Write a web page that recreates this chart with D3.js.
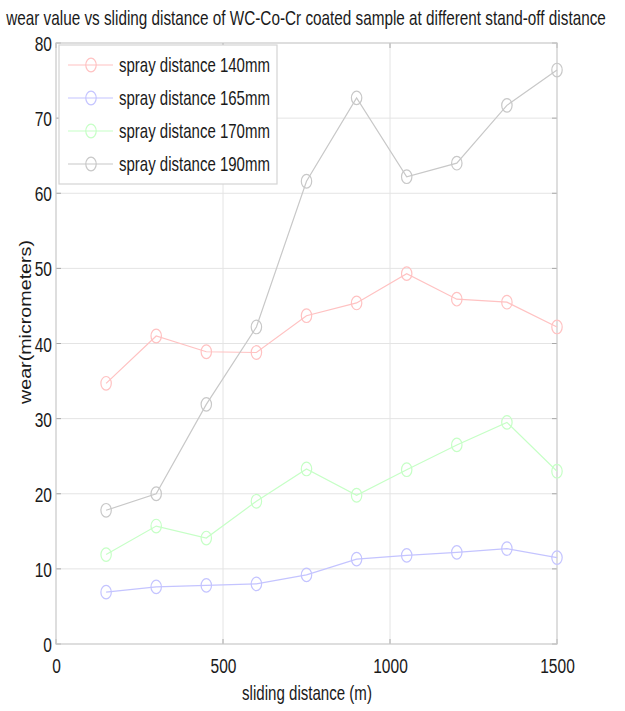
<!DOCTYPE html>
<html><head><meta charset="utf-8">
<script src="https://cdn.jsdelivr.net/npm/d3@7"></script>
<style>body{margin:0;background:#fff}svg{display:block}text{font-family:"Liberation Sans",Arial,sans-serif;fill:#1a1a1a}</style>
</head><body>
<svg id="chart" width="625" height="711"></svg>
<script>
const distances = [150, 300, 450, 600, 750, 900, 1050, 1200, 1350, 1500];
const seriesNames = ["spray distance 140mm", "spray distance 165mm", "spray distance 170mm", "spray distance 190mm"];
const wear140 = [34.7, 41.0, 38.9, 38.8, 43.7, 45.4, 49.3, 45.9, 45.5, 42.2];
const wear165 = [6.9, 7.6, 7.8, 8.0, 9.2, 11.3, 11.8, 12.2, 12.7, 11.5];
const wear170 = [11.9, 15.7, 14.1, 19.0, 23.3, 19.8, 23.2, 26.5, 29.5, 23.0];
const wear190 = [17.8, 20.0, 31.9, 42.2, 61.6, 72.7, 62.2, 64.0, 71.7, 76.4];
const xTicks = [0, 500, 1000, 1500];
const yTicks = [0, 10, 20, 30, 40, 50, 60, 70, 80];
const colors = ["#ffc2c2", "#c4c4ff", "#c6ffc6", "#c8c8c8"];
const titleText = "wear value vs sliding distance of WC-Co-Cr coated sample at different stand-off distance";
const xLabel = "sliding distance (m)";
const yLabel = "wear(micrometers)";

const series = [wear140, wear165, wear170, wear190];
const svg = d3.select("#chart");
const L = 56, R = 557, T = 43, B = 644;
const x = d3.scaleLinear().domain([0, 1500]).range([L, R]);
const y = d3.scaleLinear().domain([0, 80]).range([B, T]);
const SX = 0.74;

// helper: horizontally squeeze a text to a target width
function fitText(sel, cx, cy, width, anchor) {
  const node = sel.node();
  const w = node.getComputedTextLength();
  const s = width / w;
  sel.attr("x", 0).attr("y", 0).attr("text-anchor", anchor)
     .attr("transform", `translate(${cx},${cy}) scale(${s},1)`);
}

// grid
const grid = svg.append("g");
grid.selectAll(".gy").data(yTicks.filter(d => d > 0 && d < 80)).join("line")
  .attr("x1", L).attr("x2", R).attr("y1", d => y(d)).attr("y2", d => y(d))
  .attr("stroke", "#e4e4e4").attr("stroke-width", 1);
grid.selectAll(".gx").data(xTicks.filter(d => d > 0 && d < 1500)).join("line")
  .attr("y1", T).attr("y2", B).attr("x1", d => x(d)).attr("x2", d => x(d))
  .attr("stroke", "#e4e4e4").attr("stroke-width", 1);

// inward ticks
const tk = svg.append("g").attr("stroke", "#a8a8a8");
yTicks.forEach(d => {
  tk.append("line").attr("x1", L).attr("x2", L + 5).attr("y1", y(d)).attr("y2", y(d));
  tk.append("line").attr("x1", R).attr("x2", R - 5).attr("y1", y(d)).attr("y2", y(d));
});
xTicks.forEach(d => {
  tk.append("line").attr("x1", x(d)).attr("x2", x(d)).attr("y1", B).attr("y2", B - 5);
  tk.append("line").attr("x1", x(d)).attr("x2", x(d)).attr("y1", T).attr("y2", T + 5);
});

// box
svg.append("rect").attr("x", L).attr("y", T).attr("width", R - L).attr("height", B - T)
  .attr("fill", "none").attr("stroke", "#c8c8c8").attr("stroke-width", 1.2);

// axis tick labels via d3 axes
const xAxis = svg.append("g").attr("transform", `translate(0,${B})`)
  .call(d3.axisBottom(x).tickValues(xTicks).tickSize(0).tickPadding(0).tickFormat(d3.format("d")));
xAxis.select(".domain").remove();
xAxis.selectAll("text").attr("y", 29).attr("dy", 0).attr("font-size", 21)
  .attr("transform", `scale(${SX},1)`).style("fill", "#1a1a1a")
  .attr("font-family", "Liberation Sans, Arial, sans-serif");

const yAxis = svg.append("g").attr("transform", `translate(${L},0)`)
  .call(d3.axisLeft(y).tickValues(yTicks).tickSize(0).tickPadding(0).tickFormat(d3.format("d")));
yAxis.select(".domain").remove();
yAxis.selectAll("text").attr("x", -4 / SX).attr("dy", "0.36em").attr("font-size", 21)
  .attr("transform", `scale(${SX},1)`).style("fill", "#1a1a1a")
  .attr("font-family", "Liberation Sans, Arial, sans-serif");

// lines & markers
const line = d3.line().x((d, i) => x(distances[i])).y(d => y(d));
series.forEach((s, k) => {
  const g = svg.append("g");
  g.append("path").attr("d", line(s)).attr("fill", "none").attr("stroke", colors[k]).attr("stroke-width", 1.2);
  g.selectAll("ellipse").data(s).join("ellipse")
    .attr("cx", (d, i) => x(distances[i])).attr("cy", d => y(d))
    .attr("rx", 5.2).attr("ry", 6.8).attr("fill", "none").attr("stroke", colors[k]).attr("stroke-width", 1.2);
});

// legend
const lg = svg.append("g");
lg.append("rect").attr("x", 59).attr("y", 45).attr("width", 218).attr("height", 139)
  .attr("fill", "#fff").attr("stroke", "#d4d4d4").attr("stroke-width", 1.2);
const ly = [65, 98, 131, 164];
seriesNames.forEach((n, k) => {
  lg.append("line").attr("x1", 68).attr("x2", 113).attr("y1", ly[k]).attr("y2", ly[k])
    .attr("stroke", colors[k]).attr("stroke-width", 1.2);
  lg.append("ellipse").attr("cx", 91).attr("cy", ly[k]).attr("rx", 5.2).attr("ry", 6.8)
    .attr("fill", "none").attr("stroke", colors[k]).attr("stroke-width", 1.2);
  const t = lg.append("text").attr("font-size", 20).text(n);
  fitText(t, 119, ly[k] + 7, 151, "start");
});

// title
const tt = svg.append("text").attr("font-size", 20).text(titleText);
fitText(tt, 306, 25, 600, "middle");
// x label
const xl = svg.append("text").attr("font-size", 20).text(xLabel);
fitText(xl, 307, 700, 130, "middle");
// y label
svg.append("text").attr("transform", `translate(31,322) scale(0.85,1) rotate(-90)`)
  .attr("text-anchor", "middle").attr("font-size", 20)
  .attr("textLength", 164).attr("lengthAdjust", "spacingAndGlyphs").text(yLabel);
</script>
</body></html>
